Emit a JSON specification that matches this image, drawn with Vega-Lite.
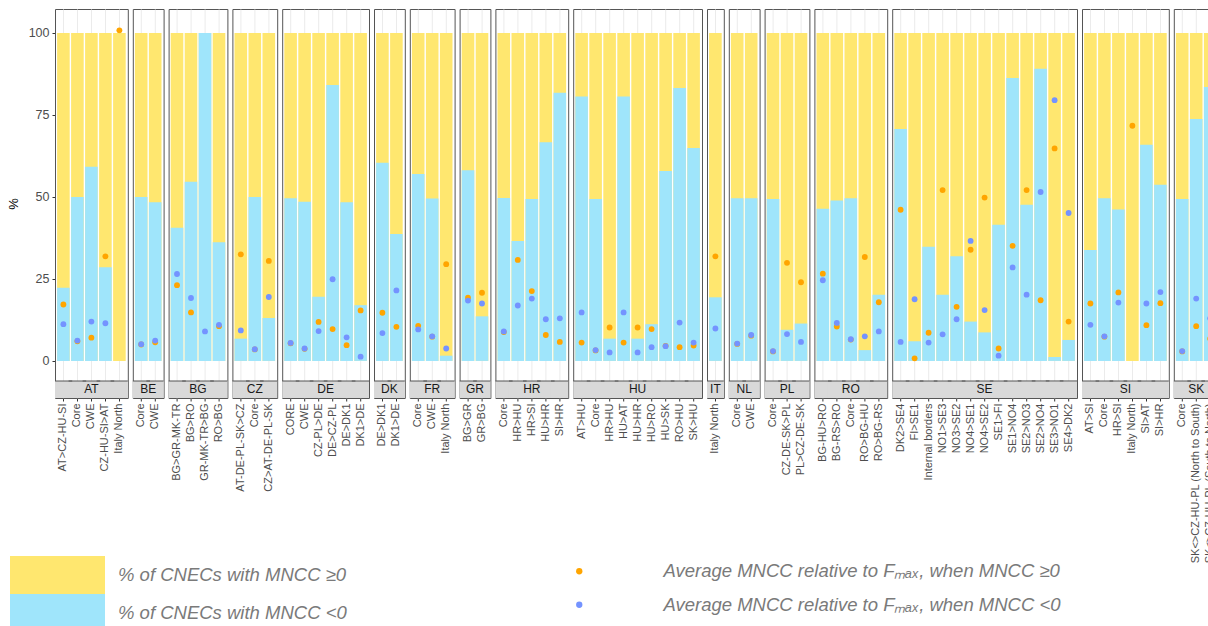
{
  "$schema": "https://vega.github.io/schema/vega-lite/v6.json",
  "padding": {"left": 7, "top": 8, "right": 0, "bottom": 0},
  "background": "white",
  "bounds": "flush",
  "data": {"values": [
    {"country": "AT", "border": "AT>CZ-HU-SI", "neg": 22.3, "opos": 17.2, "oneg": 11.2},
    {"country": "AT", "border": "Core", "neg": 50.0, "opos": 6.0, "oneg": 6.2},
    {"country": "AT", "border": "CWE", "neg": 59.2, "opos": 7.1, "oneg": 12.0},
    {"country": "AT", "border": "CZ-HU-SI>AT", "neg": 28.6, "opos": 31.9, "oneg": 11.5},
    {"country": "AT", "border": "Italy North", "neg": 0, "opos": 100.8, "oneg": null},
    {"country": "BE", "border": "Core", "neg": 50.0, "opos": 5.0, "oneg": 5.1},
    {"country": "BE", "border": "CWE", "neg": 48.4, "opos": 5.7, "oneg": 6.2},
    {"country": "BG", "border": "BG>GR-MK-TR", "neg": 40.6, "opos": 23.1, "oneg": 26.5},
    {"country": "BG", "border": "BG>RO", "neg": 54.6, "opos": 14.8, "oneg": 19.2},
    {"country": "BG", "border": "GR-MK-TR>BG", "neg": 100, "opos": null, "oneg": 9.0},
    {"country": "BG", "border": "RO>BG", "neg": 36.2, "opos": 10.6, "oneg": 11.0},
    {"country": "CZ", "border": "AT-DE-PL-SK>CZ", "neg": 6.8, "opos": 32.5, "oneg": 9.3},
    {"country": "CZ", "border": "Core", "neg": 50.0, "opos": 3.5, "oneg": 3.6},
    {"country": "CZ", "border": "CZ>AT-DE-PL-SK", "neg": 13.1, "opos": 30.5, "oneg": 19.5},
    {"country": "DE", "border": "CORE", "neg": 49.6, "opos": 5.4, "oneg": 5.5},
    {"country": "DE", "border": "CWE", "neg": 48.5, "opos": 3.7, "oneg": 3.8},
    {"country": "DE", "border": "CZ-PL>DE", "neg": 19.6, "opos": 11.9, "oneg": 9.1},
    {"country": "DE", "border": "DE>CZ-PL", "neg": 84.1, "opos": 9.7, "oneg": 24.9},
    {"country": "DE", "border": "DE>DK1", "neg": 48.4, "opos": 4.8, "oneg": 7.2},
    {"country": "DE", "border": "DK1>DE", "neg": 17.0, "opos": 15.4, "oneg": 1.3},
    {"country": "DK", "border": "DE>DK1", "neg": 60.4, "opos": 14.7, "oneg": 8.5},
    {"country": "DK", "border": "DK1>DE", "neg": 38.7, "opos": 10.4, "oneg": 21.5},
    {"country": "FR", "border": "Core", "neg": 57.0, "opos": 10.7, "oneg": 9.6},
    {"country": "FR", "border": "CWE", "neg": 49.5, "opos": 7.4, "oneg": 7.5},
    {"country": "FR", "border": "Italy North", "neg": 1.6, "opos": 29.5, "oneg": 3.8},
    {"country": "GR", "border": "BG>GR", "neg": 58.1, "opos": 19.3, "oneg": 18.4},
    {"country": "GR", "border": "GR>BG", "neg": 13.6, "opos": 20.8, "oneg": 17.5},
    {"country": "HR", "border": "Core", "neg": 49.7, "opos": 8.8, "oneg": 9.0},
    {"country": "HR", "border": "HR>HU", "neg": 36.6, "opos": 30.8, "oneg": 16.9},
    {"country": "HR", "border": "HR>SI", "neg": 49.4, "opos": 21.3, "oneg": 19.0},
    {"country": "HR", "border": "HU>HR", "neg": 66.7, "opos": 7.9, "oneg": 12.7},
    {"country": "HR", "border": "SI>HR", "neg": 81.8, "opos": 5.8, "oneg": 13.0},
    {"country": "HU", "border": "AT>HU", "neg": 80.6, "opos": 5.6, "oneg": 14.8},
    {"country": "HU", "border": "Core", "neg": 49.4, "opos": 3.2, "oneg": 3.3},
    {"country": "HU", "border": "HR>HU", "neg": 6.8, "opos": 10.2, "oneg": 2.6},
    {"country": "HU", "border": "HU>AT", "neg": 80.6, "opos": 5.6, "oneg": 14.8},
    {"country": "HU", "border": "HU>HR", "neg": 6.8, "opos": 10.2, "oneg": 2.6},
    {"country": "HU", "border": "HU>RO", "neg": 11.2, "opos": 9.7, "oneg": 4.2},
    {"country": "HU", "border": "HU>SK", "neg": 57.9, "opos": 4.6, "oneg": 4.5},
    {"country": "HU", "border": "RO>HU", "neg": 83.2, "opos": 4.2, "oneg": 11.7},
    {"country": "HU", "border": "SK>HU", "neg": 64.9, "opos": 4.7, "oneg": 5.6},
    {"country": "IT", "border": "Italy North", "neg": 19.4, "opos": 31.9, "oneg": 9.9},
    {"country": "NL", "border": "Core", "neg": 49.6, "opos": 5.2, "oneg": 5.3},
    {"country": "NL", "border": "CWE", "neg": 49.6, "opos": 7.7, "oneg": 7.9},
    {"country": "PL", "border": "Core", "neg": 49.4, "opos": 2.9, "oneg": 3.0},
    {"country": "PL", "border": "CZ-DE-SK>PL", "neg": 9.5, "opos": 29.9, "oneg": 8.2},
    {"country": "PL", "border": "PL>CZ-DE-SK", "neg": 11.4, "opos": 24.0, "oneg": 5.8},
    {"country": "RO", "border": "BG-HU>RO", "neg": 46.4, "opos": 26.6, "oneg": 24.6},
    {"country": "RO", "border": "BG-RS>RO", "neg": 48.9, "opos": 10.5, "oneg": 11.6},
    {"country": "RO", "border": "Core", "neg": 49.6, "opos": 6.5, "oneg": 6.6},
    {"country": "RO", "border": "RO>BG-HU", "neg": 3.3, "opos": 31.7, "oneg": 7.5},
    {"country": "RO", "border": "RO>BG-RS", "neg": 20.2, "opos": 17.9, "oneg": 9.0},
    {"country": "SE", "border": "DK2>SE4", "neg": 70.7, "opos": 46.1, "oneg": 5.8},
    {"country": "SE", "border": "FI>SE1", "neg": 6.0, "opos": 0.8, "oneg": 18.8},
    {"country": "SE", "border": "Internal borders", "neg": 34.8, "opos": 8.6, "oneg": 5.6},
    {"country": "SE", "border": "NO1>SE3", "neg": 20.2, "opos": 52.1, "oneg": 8.1},
    {"country": "SE", "border": "NO3>SE2", "neg": 31.9, "opos": 16.5, "oneg": 12.7},
    {"country": "SE", "border": "NO4>SE1", "neg": 12.0, "opos": 33.9, "oneg": 36.6},
    {"country": "SE", "border": "NO4>SE2", "neg": 8.7, "opos": 49.8, "oneg": 15.5},
    {"country": "SE", "border": "SE1>FI", "neg": 41.5, "opos": 3.8, "oneg": 1.6},
    {"country": "SE", "border": "SE1>NO4", "neg": 86.3, "opos": 35.1, "oneg": 28.5},
    {"country": "SE", "border": "SE2>NO3", "neg": 47.6, "opos": 52.1, "oneg": 20.2},
    {"country": "SE", "border": "SE2>NO4", "neg": 89.1, "opos": 18.5, "oneg": 51.5},
    {"country": "SE", "border": "SE3>NO1", "neg": 1.2, "opos": 64.8, "oneg": 79.5},
    {"country": "SE", "border": "SE4>DK2", "neg": 6.4, "opos": 12.0, "oneg": 45.1},
    {"country": "SI", "border": "AT>SI", "neg": 33.8, "opos": 17.5, "oneg": 11.0},
    {"country": "SI", "border": "Core", "neg": 49.6, "opos": 7.4, "oneg": 7.5},
    {"country": "SI", "border": "HR>SI", "neg": 46.2, "opos": 20.9, "oneg": 17.8},
    {"country": "SI", "border": "Italy North", "neg": 0, "opos": 71.7, "oneg": null},
    {"country": "SI", "border": "SI>AT", "neg": 65.9, "opos": 10.9, "oneg": 17.5},
    {"country": "SI", "border": "SI>HR", "neg": 53.7, "opos": 17.6, "oneg": 21.0},
    {"country": "SK", "border": "Core", "neg": 49.4, "opos": 2.9, "oneg": 3.0},
    {"country": "SK", "border": "SK<>CZ-HU-PL (North to South)", "neg": 73.8, "opos": 10.6, "oneg": 19.0},
    {"country": "SK", "border": "SK<>CZ-HU-PL (South to North)", "neg": 83.5, "opos": 6.8, "oneg": 13.0}
  ]},
  "facet": {"column": {"field": "country", "type": "nominal", "header": null}},
  "spacing": 4.8,
  "resolve": {"scale": {"x": "independent"}},
  "spec": {
    "width": {"step": 14},
    "height": 389,
    "layer": [
      {
        "mark": {"type": "bar"},
        "encoding": {
          "x": {"field": "border", "type": "nominal", "sort": null, "scale": {"paddingInner": 0.1, "paddingOuter": 0.15},
                "axis": {"title": null, "labelAngle": -90, "labelFontSize": 11, "labelColor": "#4d4d4d", "labelFont": "Liberation Sans", "labelLimit": 400, "tickColor": "#333333", "tickSize": 3, "labelPadding": 2, "domain": false, "grid": true, "gridColor": "#ebebeb"}},
          "y": {"datum": 100, "type": "quantitative",
                "scale": {"domain": [-11.3, 107.3], "nice": false, "zero": false},
                "axis": {"title": "%", "values": [0, 12.5, 25, 37.5, 50, 62.5, 75, 87.5, 100],
                         "labelExpr": "datum.value % 25 === 0 ? datum.label : ''",
                         "gridColor": {"condition": {"test": "datum.value % 25 === 0", "value": "#ebebeb"}, "value": "#f5f5f5"},
                         "tickOpacity": {"condition": {"test": "datum.value % 25 === 0", "value": 1}, "value": 0},
                         "labelFontSize": 12.5, "labelColor": "#4d4d4d", "labelFont": "Liberation Sans", "titleFont": "Liberation Sans",
                         "titleFontSize": 13, "titleFontWeight": "normal", "titleColor": "#000000", "domain": false,
                         "tickColor": "#333333", "tickSize": 3, "labelPadding": 3, "titlePadding": 8}},
          "y2": {"datum": 0},
          "fill": {"datum": "% of CNECs with MNCC ≥0", "type": "nominal",
                   "scale": {"domain": ["% of CNECs with MNCC ≥0", "% of CNECs with MNCC <0"], "range": ["#FFE76F", "#9FE5FB"]},
                   "legend": {"title": null, "orient": "none", "legendX": -45, "legendY": 547, "symbolType": "M-1,-1H4V1H-1Z", "symbolSize": 1444, "symbolStrokeWidth": 0, "symbolOpacity": 1, "rowPadding": 0, "labelOffset": 70, "labelFontSize": 18.5, "labelFont": "Liberation Sans", "labelFontStyle": "italic", "labelColor": "#7a7a7a", "labelLimit": 500}}
        }
      },
      {
        "mark": {"type": "bar"},
        "encoding": {
          "x": {"field": "border", "type": "nominal", "sort": null},
          "y": {"field": "neg", "type": "quantitative"},
          "y2": {"datum": 0},
          "fill": {"datum": "% of CNECs with MNCC <0", "type": "nominal"}
        }
      },
      {
        "mark": {"type": "circle", "size": 34, "opacity": 1},
        "encoding": {
          "x": {"field": "border", "type": "nominal", "sort": null},
          "y": {"field": "opos", "type": "quantitative"},
          "color": {"datum": "Average MNCC relative to Fₘₐₓ, when MNCC ≥0", "type": "nominal",
                    "scale": {"domain": ["Average MNCC relative to Fₘₐₓ, when MNCC ≥0", "Average MNCC relative to Fₘₐₓ, when MNCC <0"], "range": ["#FFA500", "#7493FF"]},
                    "legend": {"title": null, "orient": "none", "legendX": 515, "legendY": 553, "symbolType": "circle", "symbolSize": 40, "symbolOpacity": 1, "rowPadding": 14.5, "labelOffset": 75, "labelFontSize": 18.5, "labelFont": "Liberation Sans", "labelFontStyle": "italic", "labelColor": "#7a7a7a", "labelLimit": 600}}
        }
      },
      {
        "mark": {"type": "circle", "size": 34, "opacity": 1},
        "encoding": {
          "x": {"field": "border", "type": "nominal", "sort": null},
          "y": {"field": "oneg", "type": "quantitative"},
          "color": {"datum": "Average MNCC relative to Fₘₐₓ, when MNCC <0", "type": "nominal"}
        }
      },
      {
        "mark": {"type": "bar", "fill": "#d9d9d9", "width": {"band": 1.4}, "clip": true},
        "encoding": {
          "x": {"field": "border", "type": "nominal", "sort": null},
          "y": {"datum": -6.1, "type": "quantitative"},
          "y2": {"datum": -11.3}
        }
      },
      {
        "mark": {"type": "bar", "fill": "#555555", "width": {"band": 1.4}, "clip": true},
        "encoding": {
          "x": {"field": "border", "type": "nominal", "sort": null},
          "y": {"datum": -5.95, "type": "quantitative"},
          "y2": {"datum": -6.25}
        }
      },
      {
        "transform": [
          {"window": [{"op": "row_number", "as": "rn"}, {"op": "count", "as": "n"}], "groupby": ["country"], "frame": [null, null]},
          {"filter": "datum.n % 2 === 1 && datum.rn === (datum.n + 1) / 2"}
        ],
        "mark": {"type": "text", "fontSize": 12, "color": "#1a1a1a", "font": "Liberation Sans", "baseline": "middle", "align": "center"},
        "encoding": {
          "x": {"field": "border", "type": "nominal", "sort": null},
          "y": {"datum": -8.7, "type": "quantitative"},
          "text": {"field": "country"}
        }
      },
      {
        "transform": [
          {"window": [{"op": "row_number", "as": "rn"}, {"op": "count", "as": "n"}], "groupby": ["country"], "frame": [null, null]},
          {"filter": "datum.n % 2 === 0 && datum.rn === datum.n / 2"}
        ],
        "mark": {"type": "text", "fontSize": 12, "color": "#1a1a1a", "font": "Liberation Sans", "baseline": "middle", "align": "center"},
        "encoding": {
          "x": {"field": "border", "type": "nominal", "sort": null, "bandPosition": 1.0556},
          "y": {"datum": -8.7, "type": "quantitative"},
          "text": {"field": "country"}
        }
      }
    ]
  },
  "config": {
    "font": "Liberation Sans",
    "view": {"stroke": "#555555", "strokeWidth": 1}
  }
}
